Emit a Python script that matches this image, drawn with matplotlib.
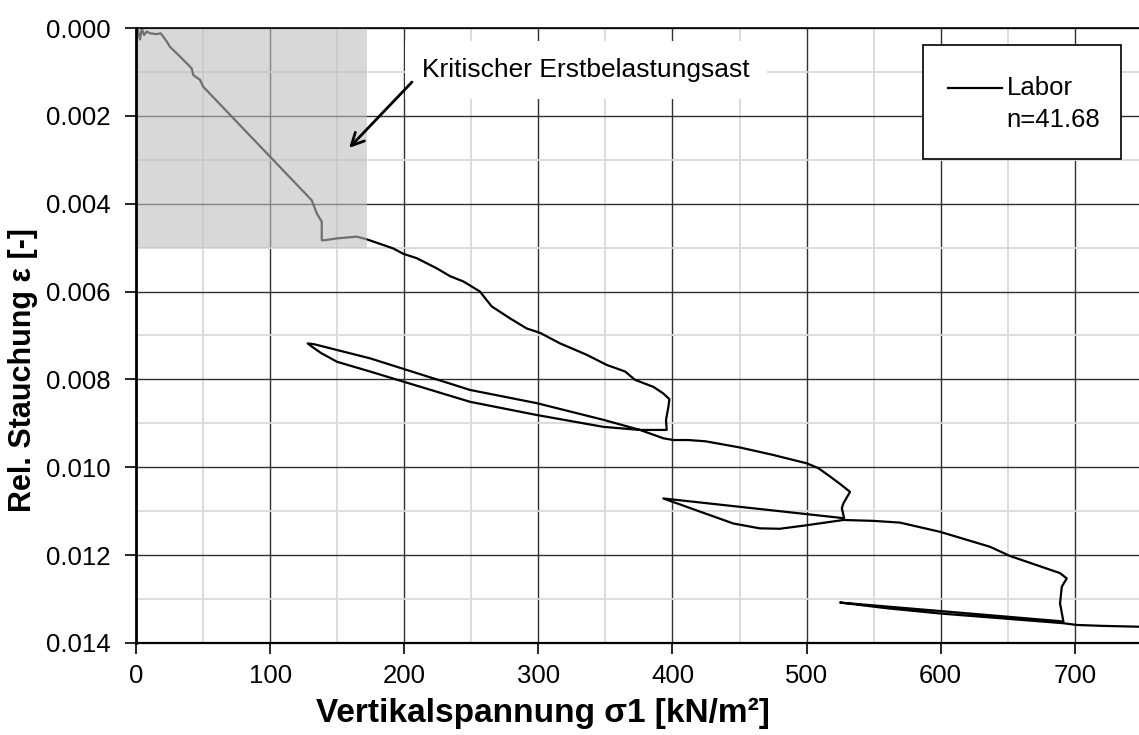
import numpy as np
import matplotlib.pyplot as plt
from matplotlib.patches import Rectangle
from matplotlib.ticker import MultipleLocator, FormatStrFormatter

plt.rcParams['font.family'] = ['Liberation Sans', 'DejaVu Sans']

# Oedometer test: vertical stress [kN/m2] and relative compression [-]
sigma1 = [1, 3, 4.3, 6, 8, 10.4, 15.4, 18.4, 20.4, 22.9, 25.4, 32.8, 39, 41.5,
          42.7, 47.7, 50.2, 131, 134.8, 138.5, 138.5, 141, 149.7, 164.6, 172,
          184.4, 191.9, 199.3, 209.3, 224.2, 234.2, 244.1, 256.5, 260.3, 265.3,
          278.9, 291.3, 301.3, 316.2, 336.1, 351, 364.7, 372.1, 385.8, 393.2,
          397.7, 397, 395.2, 395.7,
          375.8, 348.5, 298.8, 249.1, 199.3, 174.5, 150, 138, 131, 128,
          133, 174.5, 249.1, 298.8, 348.5, 375.8, 393.2, 400.7, 412, 425, 450.4,
          475.2, 500.1, 508.8, 517.5, 525, 532.4, 527.5, 526.3, 528,
          393.2,
          420.6, 445.4, 465, 480, 500, 527.5, 549.8, 569.7, 599.6, 636.8,
          651.7, 689, 694, 690.3, 689, 691.5,
          525,
          560, 600, 650, 691.5, 701.5, 720, 748]
eps = [0, 0.00026, 0.00001, 0.00016, 0.00008, 0.00012, 0.00014, 0.00012, 0.0002,
       0.00031, 0.00043, 0.00065, 0.00084, 0.00092, 0.00107, 0.00118, 0.00134,
       0.00392, 0.00422, 0.00441, 0.00483, 0.00483, 0.00479, 0.00475, 0.00481,
       0.00494, 0.00502, 0.00514, 0.00524, 0.00547, 0.00565, 0.00577, 0.006,
       0.00615, 0.00634, 0.00661, 0.00684, 0.00694, 0.00718, 0.00744, 0.00767,
       0.00782, 0.00801, 0.00817, 0.00832, 0.00845, 0.00862, 0.00892, 0.00915,
       0.00915, 0.00908, 0.00881, 0.00851, 0.00805, 0.00782, 0.0076, 0.0074,
       0.00725, 0.00718,
       0.0072, 0.00752, 0.00824, 0.00854, 0.00892, 0.00915, 0.00934, 0.00938,
       0.00938, 0.00941, 0.00955, 0.00972, 0.00991, 0.01002, 0.01021, 0.01038,
       0.01056, 0.01082, 0.01093, 0.01116,
       0.01071,
       0.01101, 0.01128, 0.01139, 0.0114, 0.01132, 0.0112, 0.01122, 0.01126,
       0.01147, 0.01181, 0.01202, 0.01241, 0.01253, 0.01272, 0.0131, 0.01351,
       0.01308,
       0.01321, 0.01333, 0.01345, 0.01355, 0.01359, 0.01361, 0.01363]

# critical first loading branch (shaded box)
crit_sigma = 172
crit_eps = 0.005

fig = plt.figure(figsize=(11.39, 7.35), dpi=100)
ax = fig.add_axes([0.1194, 0.1252, 0.8831, 0.8367])

ax.plot(sigma1, eps, color='black', lw=1.6, zorder=2)

ax.add_patch(Rectangle((0, 0), crit_sigma, crit_eps, facecolor='#bebebe',
                       edgecolor='none', alpha=0.59, zorder=2.2))

ax.set_xlim(0, 750)
ax.set_ylim(0.014, 0)
ax.xaxis.set_major_locator(MultipleLocator(100))
ax.xaxis.set_minor_locator(MultipleLocator(50))
ax.yaxis.set_major_locator(MultipleLocator(0.002))
ax.yaxis.set_minor_locator(MultipleLocator(0.001))
ax.yaxis.set_major_formatter(FormatStrFormatter('%.3f'))
ax.set_xticks([0, 100, 200, 300, 400, 500, 600, 700])

ax.grid(which='minor', color='#d9d9d9', lw=1.3, zorder=0)
ax.grid(which='major', color='#303030', lw=1.0, zorder=0.5)
ax.set_axisbelow(True)

ax.tick_params(which='major', direction='out', length=8, width=1.2,
               labelsize=18.5, color='black')
ax.tick_params(axis='y', pad=10)
ax.tick_params(axis='x', pad=7)
ax.tick_params(which='minor', length=0)

ax.spines['right'].set_visible(False)
ax.spines['left'].set_linewidth(2)
ax.spines['bottom'].set_linewidth(1.6)
ax.spines['top'].set_linewidth(1.2)

ax.set_xlabel('Vertikalspannung σ1 [kN/m²]', fontsize=24, fontweight='bold',
              va='center')
ax.set_ylabel('Rel. Stauchung ε [-]', fontsize=22, fontweight='bold',
              va='center')
ax.xaxis.set_label_coords(0.4047, -0.114)
ax.yaxis.set_label_coords(-0.112, 0.444)

ax.text(213.3, 0.00096, 'Kritischer Erstbelastungsast', fontsize=19,
        va='center', ha='left', zorder=3,
        bbox=dict(boxstyle='square,pad=0.65', fc='white', ec='none'))
ax.annotate('', xy=(158.9, 0.00273), xytext=(205.8, 0.00123),
            arrowprops=dict(arrowstyle='->,head_length=0.9,head_width=0.45',
                            color='black', lw=2, shrinkA=0, shrinkB=0),
            zorder=3)

# legend box
ax.add_patch(Rectangle((0.7822, 0.7865), 0.1969, 0.1859, facecolor='white',
                       edgecolor='black', lw=1.2, transform=ax.transAxes,
                       zorder=4))
ax.plot([0.8072, 0.8606], [0.902, 0.902], color='black', lw=1.6,
        transform=ax.transAxes, zorder=5)
ax.text(0.8657, 0.902, 'Labor', fontsize=18.5, va='center',
        transform=ax.transAxes, zorder=5)
ax.text(0.8657, 0.8504, 'n=41.68', fontsize=18.5, va='center',
        transform=ax.transAxes, zorder=5)

plt.savefig('out.png', dpi=100)
